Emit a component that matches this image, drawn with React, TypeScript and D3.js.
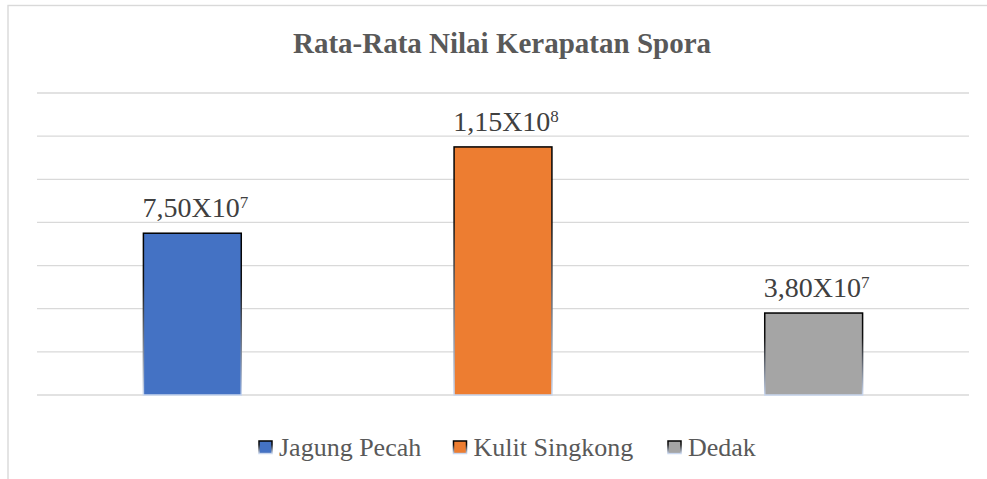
import React from "react";
import * as d3 from "d3";

const categories = ["Jagung Pecah", "Kulit Singkong", "Dedak"];
const values = [7.5e7, 1.15e8, 3.8e7];
const labelMantissa = ["7,50X10", "1,15X10", "3,80X10"];
const labelExponent = ["7", "8", "7"];
const colors = ["#4472c4", "#ed7d31", "#a5a5a5"];
const yTicks = [0, 2e7, 4e7, 6e7, 8e7, 1e8, 1.2e8, 1.4e8];
const title = "Rata-Rata Nilai Kerapatan Spora";

const W = 987;
const H = 479;
const SERIF = "Times New Roman, Tinos, Liberation Serif, serif";

export default function App() {
  const x = d3
    .scaleBand<string>()
    .domain(categories)
    .range([37, 969])
    .paddingInner(0.685)
    .paddingOuter(0.3425);
  const y = d3.scaleLinear().domain([0, 1.4e8]).range([395, 93]);

  const legendX = [259, 453.5, 668];

  return (
    <div style={{ position: "absolute", left: 0, top: 0, width: W, height: H, fontFamily: SERIF }}>
      <svg width={W} height={H} style={{ display: "block", background: "#fff", fontFamily: SERIF }}>
        <defs>
          <linearGradient id="edge" x1="0" y1="0" x2="0" y2="1">
            <stop offset="0" stopColor="#000" />
            <stop offset="0.3" stopColor="#111" />
            <stop offset="1" stopColor="#c9d7ef" />
          </linearGradient>
        </defs>
        <rect x={8} y={5.5} width={1000} height={500} fill="none" stroke="#d9d9d9" strokeWidth={1.4} />
        <text x={502} y={53} textAnchor="middle" fontFamily={SERIF} fontWeight="bold" fontSize={29} fill="#595959">
          {title}
        </text>
        {yTicks.map((t) => (
          <line key={t} x1={37} x2={969} y1={y(t)} y2={y(t)} stroke="#d9d9d9" strokeWidth={1.3} />
        ))}
        {categories.map((c, i) => {
          const bx = x(c)!;
          const bw = x.bandwidth();
          const top = y(values[i]);
          return (
            <g key={c}>
              <rect
                x={bx}
                y={top}
                width={bw}
                height={y(0) - top}
                fill={colors[i]}
                stroke="url(#edge)"
                strokeWidth={1.5}
              />
              <text
                x={bx + bw / 2 + 3}
                y={top - 16}
                textAnchor="middle"
                fontFamily={SERIF}
                fontSize={28}
                fill="#404040"
              >
                {labelMantissa[i]}
                <tspan fontSize={17} dy={-9}>
                  {labelExponent[i]}
                </tspan>
              </text>
            </g>
          );
        })}
        {categories.map((c, i) => (
          <g key={"lg" + c}>
            <rect
              x={legendX[i]}
              y={441}
              width={13}
              height={12.5}
              fill={colors[i]}
              stroke="url(#edge)"
              strokeWidth={1.5}
            />
            <text x={legendX[i] + 20} y={456} fontFamily={SERIF} fontSize={26} fill="#595959">
              {c}
            </text>
          </g>
        ))}
      </svg>
    </div>
  );
}
